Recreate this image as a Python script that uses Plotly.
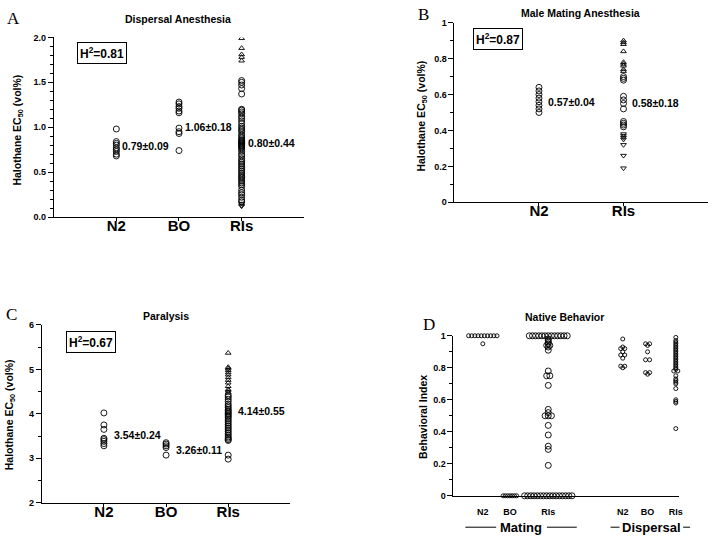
import plotly.graph_objects as go

W, H = 716, 543
FONT = "Liberation Sans"

# ---------------- DATA ----------------
cats_A = ["N2", "BO", "RIs"]
A_N2 = [0.98, 0.84, 0.82, 0.80, 0.77, 0.75, 0.73, 0.70, 0.68]
A_BO = [1.28, 1.26, 1.23, 1.21, 1.18, 1.16, 0.99, 0.95, 0.93, 0.74]
A_RIs_up = [1.99, 1.88, 1.81, 1.78, 1.74]
A_RIs_circ = [1.52, 1.50, 1.47, 1.43, 1.37, 1.20, 1.19, 1.17, 1.15, 1.12, 1.10, 1.07,
              1.04, 1.01, 0.99, 0.97, 0.95, 0.92, 0.90, 0.88, 0.86, 0.85, 0.84, 0.83,
              0.82, 0.81, 0.80, 0.79, 0.78, 0.77, 0.75, 0.73, 0.70, 0.68, 0.65, 0.63,
              0.61, 0.59, 0.57, 0.55, 0.53, 0.51, 0.49, 0.47, 0.45, 0.44, 0.42, 0.40,
              0.38, 0.36, 0.34, 0.30, 0.27, 0.25, 0.22, 0.19, 0.17]
A_RIs_down = [0.15, 0.13, 0.12]
A_stats = ["0.79±0.09", "1.06±0.18", "0.80±0.44"]
A_stat_y = [0.79, 1.00, 0.82]

cats_B = ["N2", "RIs"]
B_N2 = [0.64, 0.62, 0.60, 0.58, 0.56, 0.54, 0.52, 0.50]
B_RIs_up = [0.90, 0.89, 0.88, 0.84, 0.78, 0.77, 0.76, 0.74, 0.73]
B_RIs_circ = [0.70, 0.69, 0.68, 0.59, 0.57, 0.55, 0.52, 0.45, 0.44, 0.43, 0.42]
B_RIs_down = [0.38, 0.37, 0.36, 0.35, 0.32, 0.26, 0.19]
B_stats = ["0.57±0.04", "0.58±0.18"]
B_stat_y = [0.557, 0.555]

cats_C = ["N2", "BO", "RIs"]
C_N2 = [4.02, 3.75, 3.65, 3.45, 3.42, 3.38, 3.33, 3.28]
C_BO = [3.35, 3.32, 3.28, 3.24, 3.07]
C_RIs_up = [5.37, 5.05, 5.02, 4.98, 4.93, 4.88, 4.82, 4.76, 4.70, 4.62, 4.55, 4.52, 4.48]
C_RIs_circ = [4.42, 4.38, 4.33, 4.28, 4.22, 4.18, 4.14, 4.10, 4.07, 4.04, 4.01, 3.98,
              3.95, 3.92, 3.88, 3.84, 3.80, 3.76, 3.72, 3.68, 3.64, 3.60, 3.56, 3.52,
              3.48, 3.45, 3.42, 3.40, 3.07, 2.98]
C_stats = ["3.54±0.24", "3.26±0.11", "4.14±0.55"]
C_stat_y = [3.52, 3.19, 4.06]

D_labels = ["N2", "BO", "RIs", "N2", "BO", "RIs"]
D_mating_N2 = [1.0] * 10 + [0.95]
D_mating_BO = [0.0] * 7
D_mating_RIs = [1.0] * 13 + [0.98, 0.97, 0.96, 0.95, 0.94, 0.94, 0.93, 0.91, 0.78,
                             0.75, 0.75, 0.69, 0.54, 0.52, 0.50, 0.50, 0.50, 0.44,
                             0.38, 0.31, 0.29, 0.19] + [0.0] * 16
D_disp_N2 = [0.98, 0.93, 0.92, 0.92, 0.90, 0.88, 0.88, 0.86, 0.81, 0.81, 0.80]
D_disp_BO = [0.95, 0.95, 0.94, 0.90, 0.85, 0.85, 0.77, 0.77, 0.76]
D_disp_RIs = [0.99, 0.97, 0.96, 0.95, 0.94, 0.93, 0.92, 0.91, 0.90, 0.89, 0.88, 0.87,
              0.86, 0.85, 0.84, 0.83, 0.82, 0.81, 0.80, 0.79, 0.78, 0.78, 0.75, 0.73,
              0.72, 0.71, 0.70, 0.67, 0.60, 0.59, 0.58, 0.42]
D_groups = [D_mating_N2, D_mating_BO, D_mating_RIs, D_disp_N2, D_disp_BO, D_disp_RIs]

# ---------------- LAYOUT HELPERS ----------------
def px(x):
    return x / W

def py(y):
    return 1 - y / H

D_centers = [1.3, 2.5, 4.2, 7.5, 8.6, 9.85]
D_sizes = [4, 4, 6, 4, 4, 4]
D_steps = [0.14, 0.1, 0.14, 0.18, 0.18, 0.18]


def spread(vals, center, step):
    xs = []
    counts = {}
    for v in vals:
        counts[v] = counts.get(v, 0) + 1
    seen = {}
    for v in vals:
        k = counts[v]
        i = seen.get(v, 0)
        seen[v] = i + 1
        xs.append(center + (i - (k - 1) / 2) * step)
    return xs


fig = go.Figure()

def mk(symbol, size=6):
    return dict(symbol=symbol, size=size, color="black",
                line=dict(color="black", width=0.9))

def add_pts(cat, vals, symbol, xa, ya, size=6):
    fig.add_trace(go.Scatter(x=[cat] * len(vals), y=vals, mode="markers",
                             marker=mk(symbol, size), xaxis=xa, yaxis=ya,
                             showlegend=False, hoverinfo="y"))

# Panel A
add_pts("N2", A_N2, "circle-open", "x", "y")
add_pts("BO", A_BO, "circle-open", "x", "y")
add_pts("RIs", A_RIs_circ, "circle-open", "x", "y")
add_pts("RIs", A_RIs_up, "triangle-up-open", "x", "y", 5)
add_pts("RIs", A_RIs_down, "triangle-down-open", "x", "y", 5)
# Panel B
add_pts("N2", B_N2, "circle-open", "x2", "y2")
add_pts("RIs", B_RIs_circ, "circle-open", "x2", "y2")
add_pts("RIs", B_RIs_up, "triangle-up-open", "x2", "y2", 5)
add_pts("RIs", B_RIs_down, "triangle-down-open", "x2", "y2", 5)
# Panel C
add_pts("N2", C_N2, "circle-open", "x3", "y3")
add_pts("BO", C_BO, "circle-open", "x3", "y3")
add_pts("RIs", C_RIs_circ, "circle-open", "x3", "y3")
add_pts("RIs", C_RIs_up, "triangle-up-open", "x3", "y3", 5)
# Panel D
for vals, c, s, st in zip(D_groups, D_centers, D_sizes, D_steps):
    fig.add_trace(go.Scatter(x=spread(vals, c, st), y=vals, mode="markers",
                             marker=mk("circle-open", s), xaxis="x4", yaxis="y4",
                             showlegend=False, hoverinfo="y", cliponaxis=False))

tickfont_y = dict(family=FONT, size=9, color="black", weight="bold")
tickfont_x = dict(family=FONT, size=15, color="black", weight="bold")

def xcat(domain, cats, anchor):
    return dict(domain=domain, anchor=anchor, type="category", categoryorder="array",
                categoryarray=cats, range=[-1, len(cats)], showline=True,
                linecolor="black", linewidth=1, ticks="outside", ticklen=3,
                tickcolor="black", tickfont=tickfont_x, showgrid=False, zeroline=False,
                fixedrange=True, ticklabelstandoff=-8)

def yax(domain, rng, dtick, minor, anchor, fmt=None):
    d = dict(domain=domain, anchor=anchor, range=rng, dtick=dtick, tick0=rng[0],
             showline=True, linecolor="black", linewidth=1, ticks="outside",
             ticklen=5, tickcolor="black", tickfont=tickfont_y, showgrid=False,
             zeroline=False, minor=dict(dtick=minor, ticks="outside", ticklen=3,
                                        tickcolor="black", showgrid=False))
    if fmt:
        d["tickformat"] = fmt
    return d

fig.update_layout(
    width=W, height=H, margin=dict(l=0, r=0, t=0, b=0),
    paper_bgcolor="white", plot_bgcolor="white",
    xaxis=xcat([px(54), px(306)], cats_A, "y"),
    yaxis=yax([py(216), py(33)], [0, 2], 0.5, 0.1, "x", ".1f"),
    xaxis2=xcat([px(457), px(712)], cats_B, "y2"),
    yaxis2=yax([py(201), py(18)], [0, 1], 0.2, 0.1, "x2"),
    xaxis3=xcat([px(42), px(292)], cats_C, "y3"),
    yaxis3=yax([py(507), py(326)], [2, 6], 1, 0.5, "x3"),
    xaxis4=dict(domain=[px(456), px(683)], anchor="y4", range=[0, 10],
                tickvals=D_centers, ticktext=D_labels, showline=True,
                linecolor="black", linewidth=1, ticks="", showgrid=False,
                zeroline=False, ticklabelstandoff=7,
                tickfont=dict(family=FONT, size=9, color="black", weight="bold")),
    yaxis4=yax([py(500), py(337)], [0, 1], 0.2, 0.1, "x4"),
)

ann = []
def text(x, y, t, size, bold=True, family=FONT, xanchor="center", angle=0, **kw):
    ann.append(dict(x=x, y=y, xref="paper", yref="paper", text=t, showarrow=False,
                    xanchor=xanchor, yanchor="middle", textangle=angle,
                    font=dict(family=family, size=size, color="black",
                              weight="bold" if bold else "normal"), **kw))

# panel letters
for lx, ly, l in [(14, 14, "A"), (426, 10, "B"), (12, 315, "C"), (431, 326, "D")]:
    text(px(lx), py(ly), l, 17, bold=False, family="Liberation Serif")
# titles
text(px(179), py(14), "Dispersal Anesthesia", 10.5)
text(px(584), py(8), "Male Mating Anesthesia", 10.5)
text(px(167), py(317), "Paralysis", 10.5)
text(px(568), py(318), "Native Behavior", 10.5)
# y titles
yt = "Halothane EC<sub>50</sub> (vol%)"
text(px(18), py(127), yt, 10.5, angle=-90)
text(px(424), py(113), yt, 10.5, angle=-90)
text(px(10), py(417), yt, 10.5, angle=-90)
text(px(426), py(420), "Behavioral Index", 10.5, angle=-90)
# H2 boxes
box = dict(bordercolor="black", borderwidth=1, borderpad=2, bgcolor="white")
text(px(103), py(49), "H<sup>2</sup>=0.81", 12, **box)
text(px(501), py(35), "H<sup>2</sup>=0.87", 12, **box)
text(px(92), py(343), "H<sup>2</sup>=0.67", 12, **box)

# stats labels
def stats(xa, ya, cats, labels, ys, shift):
    for c, l, yv in zip(cats, labels, ys):
        ann.append(dict(x=c, y=yv, xref=xa, yref=ya, text=l, showarrow=False,
                        xanchor="left", yanchor="middle", xshift=shift,
                        font=dict(family=FONT, size=10.5, color="black", weight="bold")))

stats("x", "y", cats_A, A_stats, A_stat_y, 4)
stats("x2", "y2", cats_B, B_stats, B_stat_y, 7)
stats("x3", "y3", cats_C, C_stats, C_stat_y, 8)

# Mating / Dispersal group labels
text(px(524), py(532), "Mating", 13)
text(px(655), py(532), "Dispersal", 13)
fig.update_layout(annotations=ann)

shapes = []
for x0, x1 in [(468, 499), (550, 580), (614, 623), (687, 694)]:
    shapes.append(dict(type="line", xref="paper", yref="paper", x0=px(x0), x1=px(x1),
                       y0=py(532), y1=py(532), line=dict(color="black", width=1)))
fig.update_layout(shapes=shapes)

fig.write_html("out.html", config={"displayModeBar": False},
               post_script="document.body.style.margin='0px';")
